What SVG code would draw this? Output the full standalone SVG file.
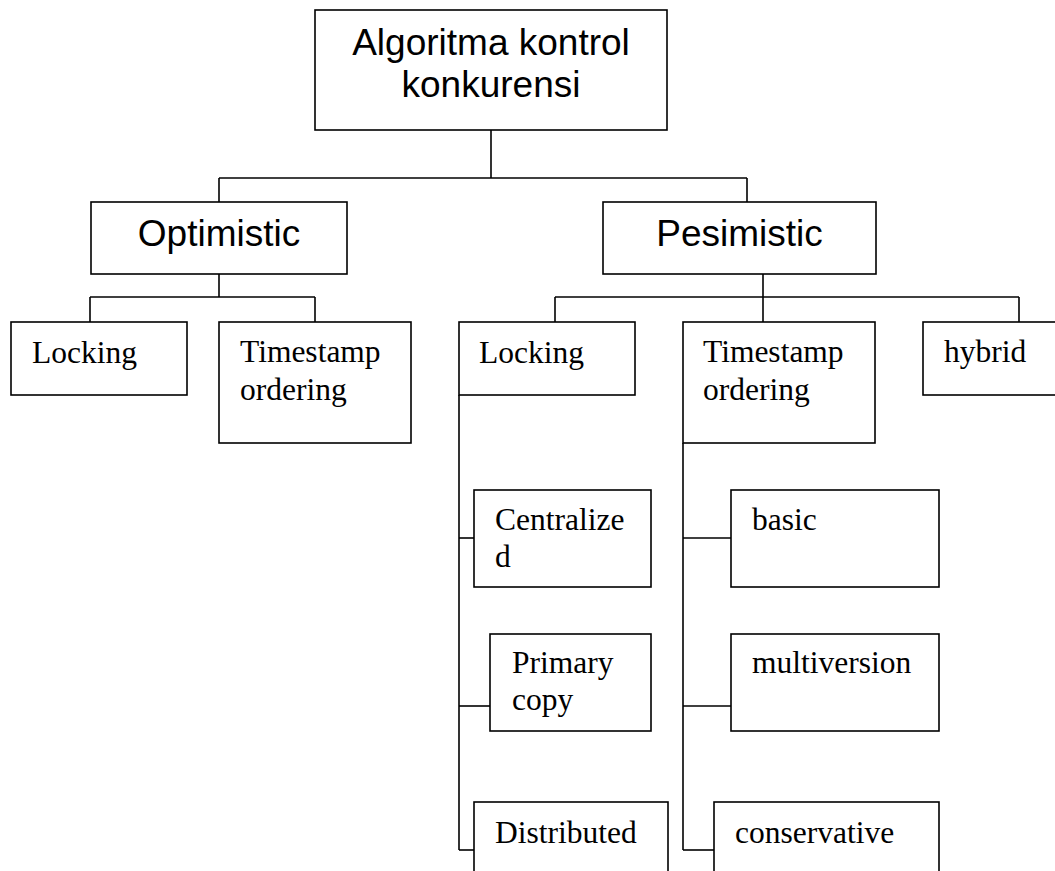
<svg xmlns="http://www.w3.org/2000/svg" width="1055" height="871" viewBox="0 0 1055 871">
<style>
rect{fill:#fff;stroke:#000;stroke-width:1.6}
.c line{stroke:#000;stroke-width:1.6}
.a{font-family:"Liberation Sans",Arial,sans-serif;font-size:37px;fill:#000;text-anchor:middle}
.t{font-family:"Liberation Serif","Times New Roman",serif;font-size:31.5px;fill:#000}
</style>
<rect x="0" y="0" width="1055" height="871" style="stroke:none"/>
<g class="c" id="connectors">
<line x1="491" y1="130" x2="491" y2="178"/>
<line x1="219" y1="178" x2="747" y2="178"/>
<line x1="219" y1="178" x2="219" y2="202"/>
<line x1="747" y1="178" x2="747" y2="202"/>
<line x1="219" y1="274" x2="219" y2="297"/>
<line x1="90" y1="297" x2="315" y2="297"/>
<line x1="90" y1="297" x2="90" y2="322"/>
<line x1="315" y1="297" x2="315" y2="322"/>
<line x1="763" y1="274" x2="763" y2="322"/>
<line x1="555" y1="297" x2="1019" y2="297"/>
<line x1="555" y1="297" x2="555" y2="322"/>
<line x1="1019" y1="297" x2="1019" y2="322"/>
<line x1="459" y1="395" x2="459" y2="850"/>
<line x1="459" y1="538" x2="474" y2="538"/>
<line x1="459" y1="706" x2="490" y2="706"/>
<line x1="459" y1="850" x2="474" y2="850"/>
<line x1="683" y1="443" x2="683" y2="850"/>
<line x1="683" y1="538" x2="731" y2="538"/>
<line x1="683" y1="706" x2="731" y2="706"/>
<line x1="683" y1="850" x2="714" y2="850"/>
</g>
<g id="root"><rect x="315" y="10" width="352" height="120"/><text class="a" x="491" y="55">Algoritma kontrol</text><text class="a" x="491" y="97">konkurensi</text></g>
<g id="optimistic"><rect x="91" y="202" width="256" height="72"/><text class="a" x="219" y="246">Optimistic</text></g>
<g id="pesimistic"><rect x="603" y="202" width="273" height="72"/><text class="a" x="739.5" y="246">Pesimistic</text></g>
<g id="opt-locking"><rect x="11" y="322" width="176" height="73"/><text class="t" x="32" y="363">Locking</text></g>
<g id="opt-timestamp"><rect x="219" y="322" width="192" height="121"/><text class="t" x="240" y="362">Timestamp</text><text class="t" x="240" y="400">ordering</text></g>
<g id="pes-locking"><rect x="459" y="322" width="176" height="73"/><text class="t" x="479" y="363">Locking</text></g>
<g id="pes-timestamp"><rect x="683" y="322" width="192" height="121"/><text class="t" x="703" y="362">Timestamp</text><text class="t" x="703" y="400">ordering</text></g>
<g id="hybrid"><rect x="923" y="322" width="150" height="73"/><text class="t" x="944" y="362">hybrid</text></g>
<g id="centralized"><rect x="474" y="490" width="177" height="97"/><text class="t" x="495" y="530">Centralize</text><text class="t" x="495" y="567">d</text></g>
<g id="primary-copy"><rect x="490" y="634" width="161" height="97"/><text class="t" x="512" y="673">Primary</text><text class="t" x="512" y="710">copy</text></g>
<g id="distributed"><rect x="474" y="802" width="194" height="90"/><text class="t" x="495" y="843">Distributed</text></g>
<g id="basic"><rect x="731" y="490" width="208" height="97"/><text class="t" x="752" y="530">basic</text></g>
<g id="multiversion"><rect x="731" y="634" width="208" height="97"/><text class="t" x="752" y="673">multiversion</text></g>
<g id="conservative"><rect x="714" y="802" width="225" height="90"/><text class="t" x="735" y="843">conservative</text></g>
</svg>
